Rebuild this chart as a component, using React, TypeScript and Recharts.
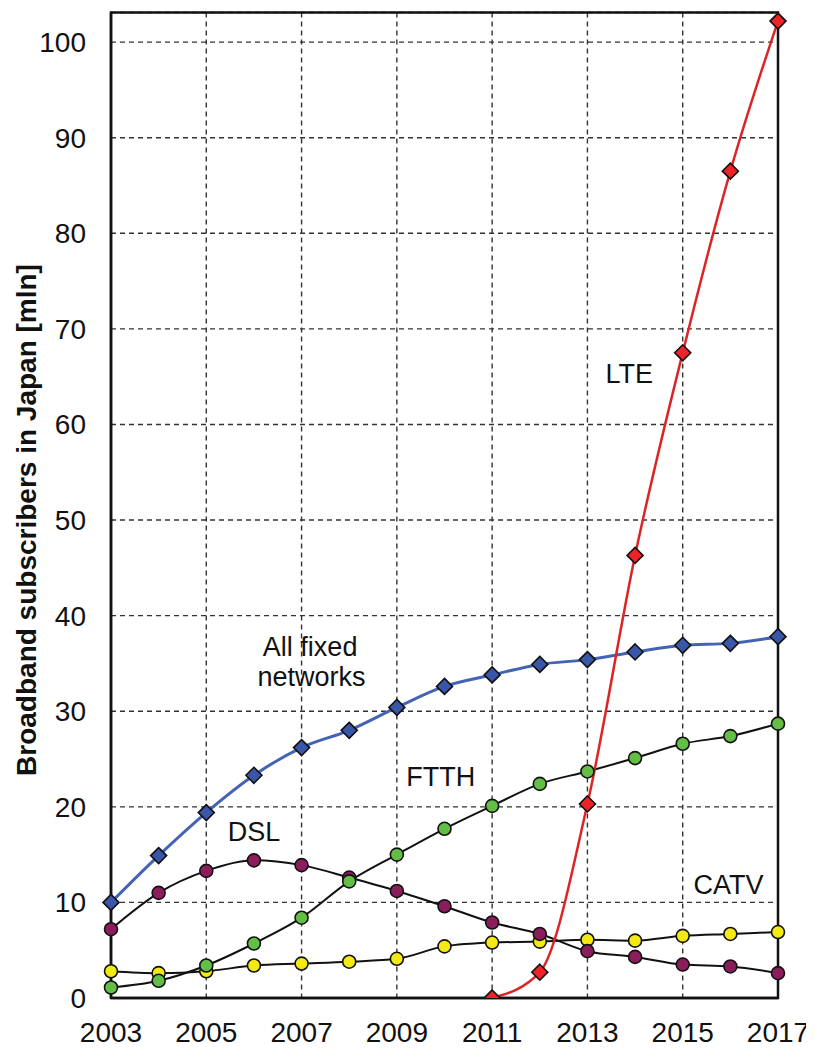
import { LineChart, Line, XAxis, YAxis, CartesianGrid, ReferenceArea, ReferenceDot } from 'recharts';

// Broadband subscribers in Japan, millions, 2003-2017
const years = [2003, 2004, 2005, 2006, 2007, 2008, 2009, 2010, 2011, 2012, 2013, 2014, 2015, 2016, 2017];
const allFixed = [10.0, 14.9, 19.4, 23.3, 26.2, 28.0, 30.4, 32.6, 33.8, 34.9, 35.4, 36.2, 36.9, 37.1, 37.8];
const dsl = [7.2, 11.0, 13.3, 14.4, 13.9, 12.6, 11.2, 9.6, 7.9, 6.7, 4.9, 4.3, 3.5, 3.3, 2.6];
const ftth = [1.1, 1.8, 3.4, 5.7, 8.4, 12.2, 15.0, 17.7, 20.1, 22.4, 23.7, 25.1, 26.6, 27.4, 28.7];
const catv = [2.8, 2.6, 2.8, 3.4, 3.6, 3.8, 4.1, 5.4, 5.8, 5.9, 6.1, 6.0, 6.5, 6.7, 6.9];
const lte = [null, null, null, null, null, null, null, null, 0, 2.7, 20.3, 46.3, 67.5, 86.5, 102.2];

const xTicks = [2003, 2005, 2007, 2009, 2011, 2013, 2015, 2017];
const yTicks = [0, 10, 20, 30, 40, 50, 60, 70, 80, 90, 100];
const yMax = 103.1;

const data = years.map((year, i) => ({
  year,
  allFixed: allFixed[i],
  dsl: dsl[i],
  ftth: ftth[i],
  catv: catv[i],
  lte: lte[i],
}));

const FONT = '"Liberation Sans", Arial, sans-serif';
const EDGE = '#111';

const diamond = (fill: string) => (props: any) => {
  const { cx, cy, index } = props;
  if (cx == null || cy == null || props.value == null) return <g key={`d-${index}`} />;
  const s = 8;
  return (
    <polygon
      key={`d-${index}`}
      points={`${cx},${cy - s} ${cx + s},${cy} ${cx},${cy + s} ${cx - s},${cy}`}
      fill={fill}
      stroke={EDGE}
      strokeWidth={1.6}
    />
  );
};

const circle = (fill: string) => ({ r: 6.5, fill, stroke: EDGE, strokeWidth: 1.6 });

const tag = (value: string) => ({
  value,
  position: 'center' as const,
  fill: '#111',
  fontSize: 27,
  fontFamily: FONT,
});

// rotated axis title, baseline on the right of the glyphs
const AxisTitle = () => (
  <text
    transform="translate(28, 512) rotate(-90)"
    textAnchor="middle"
    fill="#111"
    fontSize={28}
    fontWeight="bold"
    fontFamily={FONT}
  >
    Broadband subscribers in Japan [mln]
  </text>
);

export default function App() {
  return (
    <LineChart
      width={806}
      height={1041}
      data={data}
      margin={{ top: 4.5, right: 36, left: 0, bottom: 0 }}
      style={{ fontFamily: FONT }}
    >
      <CartesianGrid stroke="#333" strokeDasharray="5 4" strokeWidth={1.4} />
      <XAxis
        dataKey="year"
        type="number"
        domain={[2003, 2017]}
        ticks={xTicks}
        height={51}
        axisLine={{ stroke: EDGE, strokeWidth: 2.5 }}
        tickLine={false}
        tickSize={0}
        tickMargin={24}
        tick={{ fill: '#111', fontSize: 28, fontFamily: FONT }}
        interval={0}
      />
      <YAxis
        type="number"
        domain={[0, yMax]}
        ticks={yTicks}
        width={103}
        allowDataOverflow
        axisLine={{ stroke: EDGE, strokeWidth: 2.5 }}
        tickLine={false}
        tickSize={0}
        tickMargin={25}
        tick={{ fill: '#111', fontSize: 28, fontFamily: FONT }}
        interval={0}
        label={{ content: () => <AxisTitle /> }}
      />
      <ReferenceArea x1={2003} x2={2017} y1={0} y2={yMax} fill="none" stroke={EDGE} strokeWidth={2.5} ifOverflow="visible" />

      <Line dataKey="catv" type="monotone" stroke={EDGE} strokeWidth={2} dot={circle('#F2EA12')} isAnimationActive={false} />
      <Line dataKey="dsl" type="monotone" stroke={EDGE} strokeWidth={2} dot={circle('#8C1D5C')} isAnimationActive={false} />
      <Line dataKey="ftth" type="monotone" stroke={EDGE} strokeWidth={2} dot={circle('#62BE45')} isAnimationActive={false} />
      <Line dataKey="allFixed" type="monotone" stroke="#4463B4" strokeWidth={3} dot={diamond('#3A56A8')} isAnimationActive={false} />
      <Line dataKey="lte" type="monotone" stroke="#DC2426" strokeWidth={2.5} dot={diamond('#EE2328')} connectNulls={false} isAnimationActive={false} />

      <ReferenceDot x={2007.18} y={36.74} r={0} stroke="none" label={tag('All fixed')} />
      <ReferenceDot x={2007.21} y={33.6} r={0} stroke="none" label={tag('networks')} />
      <ReferenceDot x={2009.92} y={23.13} r={0} stroke="none" label={tag('FTTH')} />
      <ReferenceDot x={2006.0} y={17.38} r={0} stroke="none" label={tag('DSL')} />
      <ReferenceDot x={2015.96} y={11.87} r={0} stroke="none" label={tag('CATV')} />
      <ReferenceDot x={2013.88} y={65.36} r={0} stroke="none" label={tag('LTE')} />
    </LineChart>
  );
}
